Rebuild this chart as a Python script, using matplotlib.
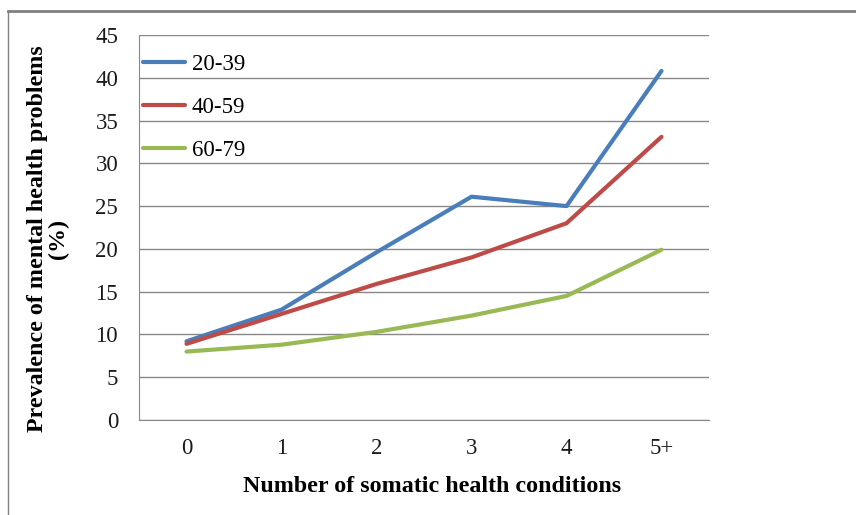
import matplotlib.pyplot as plt
from matplotlib.lines import Line2D

# data
categories = ['0', '1', '2', '3', '4', '5+']
age_20_39 = [9.2, 12.9, 19.6, 26.1, 25.0, 40.8]
age_40_59 = [8.9, 12.4, 15.9, 19.0, 23.0, 33.1]
age_60_79 = [8.0, 8.8, 10.3, 12.2, 14.5, 19.9]

plt.rcParams['font.family'] = ['Liberation Serif', 'DejaVu Serif']

W, H = 856, 515
fig = plt.figure(figsize=(W / 100, H / 100), dpi=100)
ax = fig.add_axes([139 / W, 1 - 420 / H, (709 - 139) / W, (420 - 35) / H])

x = range(len(categories))
ax.plot(x, age_20_39, color='#4a7ebb', lw=3, label='20-39', solid_capstyle='round')
ax.plot(x, age_40_59, color='#be4b48', lw=3, label='40-59', solid_capstyle='round')
ax.plot(x, age_60_79, color='#98b954', lw=3, label='60-79', solid_capstyle='round')

ax.set_xlim(-0.5, len(categories) - 0.5)
ax.set_ylim(0, 45)
ax.set_yticks(range(0, 46, 5))
ax.set_xticks(list(x))
ax.set_xticklabels(categories)
ax.tick_params(length=0, labelsize=16.5, colors='#1a1a1a')
ax.tick_params(axis='y', pad=15)
ax.tick_params(axis='x', pad=13)
ax.yaxis.grid(True, color='#888888', lw=1)
ax.set_axisbelow(True)
for s in ['top', 'right']:
    ax.spines[s].set_visible(False)
for s in ['left', 'bottom']:
    ax.spines[s].set_color('#888888')

ax.set_xlabel('Number of somatic health conditions', fontsize=17.3, fontweight='bold', va='center')
ax.xaxis.set_label_coords(0.515, -0.174)
ax.set_ylabel('Prevalence of mental health problems\n(%)', fontsize=17.3, fontweight='bold',
              linespacing=1.0, va='center')
ax.yaxis.set_label_coords(-0.16, 0.47)

ax.legend(loc='upper left', bbox_to_anchor=(0.007, 0.951), frameon=False, fontsize=16.5,
          handlelength=1.83, labelspacing=0.97, handletextpad=0.3, borderaxespad=0,
          borderpad=0)

# outer chart border (top and left visible)
fig.add_artist(Line2D([8 / W, 1], [1 - 11 / H, 1 - 11 / H], color='#808080', lw=2,
                      transform=fig.transFigure))
fig.add_artist(Line2D([8 / W, 8 / W], [0, 1 - 11 / H], color='#808080', lw=1,
                      transform=fig.transFigure))

fig.savefig('out.png', dpi=100)
